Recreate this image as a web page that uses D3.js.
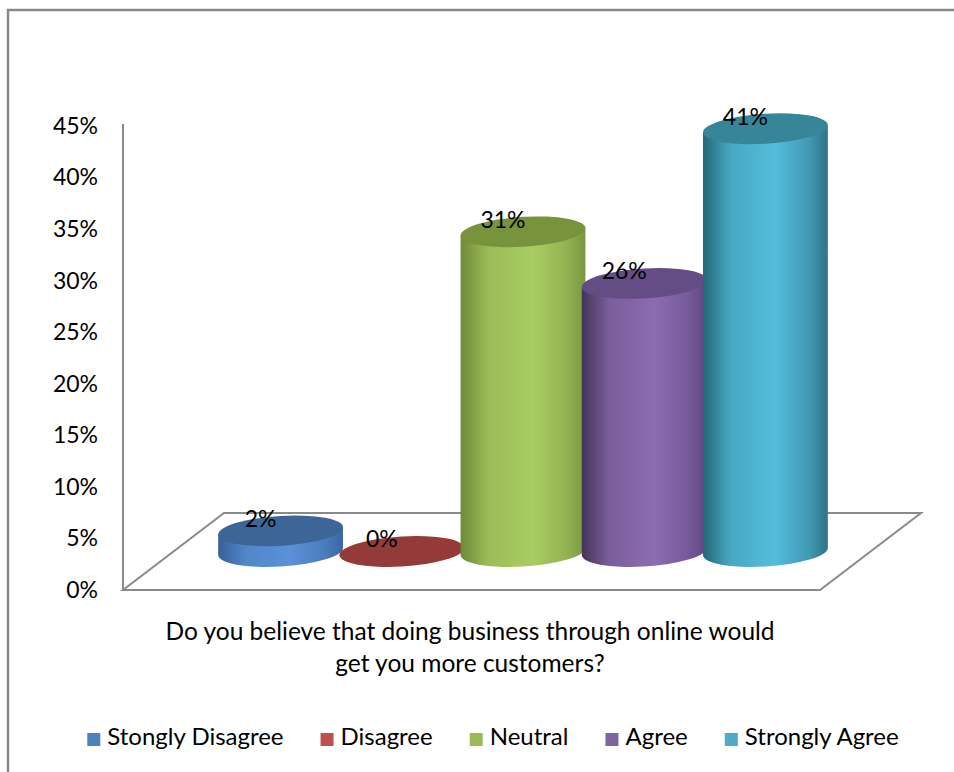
<!DOCTYPE html>
<html>
<head>
<meta charset="utf-8">
<script src="https://cdn.jsdelivr.net/npm/d3@7"></script>
<style>
  body { margin: 0; background: #fff; }
  text { font-family: Lato, "Open Sans", sans-serif; fill: #000; }
</style>
</head>
<body>
<div id="chart"></div>
<script>
// data
const categories = ["Stongly Disagree", "Disagree", "Neutral", "Agree", "Strongly Agree"];
const values = [0.02, 0.00, 0.31, 0.26, 0.41];
const valueLabels = ["2%", "0%", "31%", "26%", "41%"];
const yTicks = [0, 0.05, 0.10, 0.15, 0.20, 0.25, 0.30, 0.35, 0.40, 0.45];
const titleLines = ["Do you believe that doing business through online would", "get you more customers?"];

// colours: flat (legend), top ellipse, side gradient (dark, light, dark)
const flatColors = ["#4f81bd", "#c0504d", "#9bbb59", "#8064a2", "#4bacc6"];
const topColors = ["#3d6596", "#943a38", "#77933c", "#644d84", "#378598"];
const sideDark = ["#35609a", "#8c3533", "#6f8a38", "#443458", "#236778"];
const sideLight = ["#5a92d8", "#c0504d", "#a9cd62", "#8c6cb2", "#54bddb"];
const sideRight = ["#3a67a4", "#8c3533", "#7a9742", "#5f4782", "#2e7488"];

const W = 954, H = 772;
const svg = d3.select("#chart").append("svg")
    .attr("width", W)
    .attr("height", H);

// outer frame
svg.append("rect")
    .attr("x", 8).attr("y", 10)
    .attr("width", 980).attr("height", 800)
    .attr("fill", "none")
    .attr("stroke", "#8a8a8a")
    .attr("stroke-width", 2.5);

// scales
const axisX = 123;
const y = d3.scaleLinear().domain([0, 0.45]).range([590, 126]);
const x = d3.scaleBand().domain(categories).range([220, 826]);
const depthX = 101, depthY = -77;
const floorRight = 820;

// floor
const floorPts = [
    [axisX, y(0)], [floorRight, y(0)],
    [floorRight + depthX, y(0) + depthY], [axisX + depthX, y(0) + depthY]
];
svg.append("polygon")
    .attr("points", floorPts.map(p => p.join(",")).join(" "))
    .attr("fill", "#fff")
    .attr("stroke", "#8a8a8a")
    .attr("stroke-width", 2);

// y axis
svg.append("line")
    .attr("x1", axisX).attr("x2", axisX)
    .attr("y1", y(0.45) - 2).attr("y2", y(0))
    .attr("stroke", "#8a8a8a")
    .attr("stroke-width", 2);

const yAxis = svg.append("g")
    .attr("transform", "translate(" + axisX + ",0)")
    .call(d3.axisLeft(y).tickValues(yTicks).tickSize(0).tickPadding(25)
        .tickFormat(d3.format(".0%")));
yAxis.select(".domain").remove();
yAxis.selectAll("text")
    .style("font-family", "Lato, sans-serif")
    .style("font-size", "23px")
    .attr("fill", "#000");

// gradients
const defs = svg.append("defs");
categories.forEach((c, i) => {
    const g = defs.append("linearGradient")
        .attr("id", "side" + i)
        .attr("x1", "0").attr("x2", "1").attr("y1", "0").attr("y2", "0");
    g.append("stop").attr("offset", "0%").attr("stop-color", sideDark[i]);
    g.append("stop").attr("offset", "22%").attr("stop-color", d3.interpolateRgb(sideDark[i], sideLight[i])(0.75));
    g.append("stop").attr("offset", "58%").attr("stop-color", sideLight[i]);
    g.append("stop").attr("offset", "85%").attr("stop-color", d3.interpolateRgb(sideLight[i], sideRight[i])(0.5));
    g.append("stop").attr("offset", "100%").attr("stop-color", sideRight[i]);
});

// cylinders
const baseY = y(0) + depthY / 2;
const rx = x.bandwidth() * 0.515;
const ry = 15;
const tilt = -3.3;

categories.forEach((c, i) => {
    const cx = x(c) + x.bandwidth() / 2;
    const h = y(0) - y(values[i]);
    const topY = baseY - h;
    const g = svg.append("g")
        .attr("transform", "translate(" + cx + ",0) skewY(" + tilt + ") translate(" + (-cx) + ",0)");
    if (h > 0.5) {
        g.append("path")
            .attr("d", "M" + (cx - rx) + "," + topY +
                " L" + (cx - rx) + "," + baseY +
                " A" + rx + "," + ry + " 0 0 0 " + (cx + rx) + "," + baseY +
                " L" + (cx + rx) + "," + topY + " Z")
            .attr("fill", "url(#side" + i + ")");
    }
    g.append("ellipse")
        .attr("cx", cx).attr("cy", topY)
        .attr("rx", rx).attr("ry", ry)
        .attr("fill", topColors[i]);
});

// value labels
categories.forEach((c, i) => {
    const cx = x(c) + x.bandwidth() / 2;
    const topY = baseY - (y(0) - y(values[i]));
    svg.append("text")
        .attr("x", cx - 20)
        .attr("y", topY - 10)
        .attr("text-anchor", "middle")
        .attr("dominant-baseline", "middle")
        .style("font-size", "23px")
        .text(valueLabels[i]);
});

// axis title
svg.selectAll(".title")
    .data(titleLines)
    .enter()
    .append("text")
    .attr("class", "title")
    .attr("x", 470)
    .attr("y", (d, i) => 634 + i * 32)
    .attr("text-anchor", "middle")
    .attr("dominant-baseline", "middle")
    .style("font-size", "24.5px")
    .text(d => d);

// legend
const legend = svg.append("g");
let lx = 0;
categories.forEach((c, i) => {
    const item = legend.append("g").attr("transform", "translate(" + lx + ",0)");
    item.append("rect")
        .attr("x", 0).attr("y", -6)
        .attr("width", 13).attr("height", 13)
        .attr("fill", flatColors[i]);
    const t = item.append("text")
        .attr("x", 20).attr("y", 0)
        .attr("dominant-baseline", "middle")
        .style("font-size", "24px")
        .text(c);
    lx += 20 + t.node().getComputedTextLength() + 37;
});
const legendW = lx - 37;
legend.attr("transform", "translate(" + (493 - legendW / 2) + ",739)");
</script>
</body>
</html>
